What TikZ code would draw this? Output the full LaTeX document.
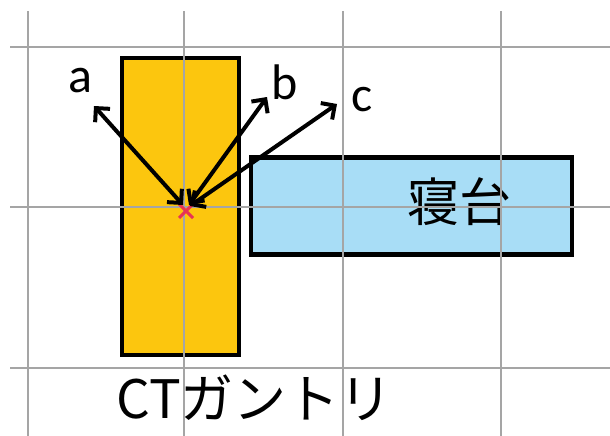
\documentclass[tikz,border=0pt]{standalone}
\usepackage{fontspec}
\setmainfont{Carlito}
\newfontfamily\jpfont{Noto Sans CJK JP}
\usetikzlibrary{arrows.meta}
\definecolor{gantryfill}{RGB}{252,198,14}
\definecolor{bedfill}{RGB}{168,221,246}
\definecolor{gridgray}{RGB}{165,165,165}
\definecolor{markred}{RGB}{232,52,84}
\tikzset{
  gridline/.style={draw=gridgray, line width=2pt},
  boxshape/.style={draw=black, line width=4.5pt, inner sep=0pt, outer sep=0pt},
  ray/.style={line width=4pt, {Straight Barb[length=10pt,width=20pt]}-{Straight Barb[length=10pt,width=20pt]}},
  lbl/.style={font=\fontsize{50}{50}\selectfont, inner sep=0pt},
}
\begin{document}
\begin{tikzpicture}[x=1pt,y=-1pt]
\useasboundingbox (0,0) rectangle (610,436);
% shapes
\node[boxshape, fill=gantryfill, minimum width=117pt, minimum height=297pt] (g) at (180.5,206.5) {};
\node[boxshape, fill=bedfill, minimum width=321pt, minimum height=97pt] (bed) at (411.5,206) {};
\node[inner sep=0pt, font=\jpfont\fontsize{52}{52}\selectfont] (bedtxt) at (459,202) {寝台};
\node[inner sep=0pt, font=\jpfont\fontsize{53}{53}\selectfont, anchor=west] (ct) at (116,398) {CTガントリ};
% grid
\foreach \x in {28,184,343,501} \draw[gridline] (\x,11) -- (\x,436);
\foreach \y in {47,207,368} \draw[gridline] (10,\y) -- (610,\y);
% marker
\coordinate (o) at (186,211);
\draw[markred, line width=3pt] ([shift={(-7,-7)}]o) -- ([shift={(7,7)}]o) ([shift={(-7,7)}]o) -- ([shift={(7,-7)}]o);
% labels and rays
\node[lbl] (la) at (80,81) {a};
\node[lbl] (lb) at (285,82) {b};
\node[lbl] (lc) at (362,100) {c};
\coordinate (ta) at (94,106);
\coordinate (tb) at (267,97);
\coordinate (tc) at (337,104);
\coordinate (ea) at (183,205);
\coordinate (eb) at (189,205);
\coordinate (ec) at (190,206);
\draw[ray] (ta) -- (ea);
\draw[ray] (tb) -- (eb);
\draw[ray] (tc) -- (ec);
\end{tikzpicture}
\end{document}
